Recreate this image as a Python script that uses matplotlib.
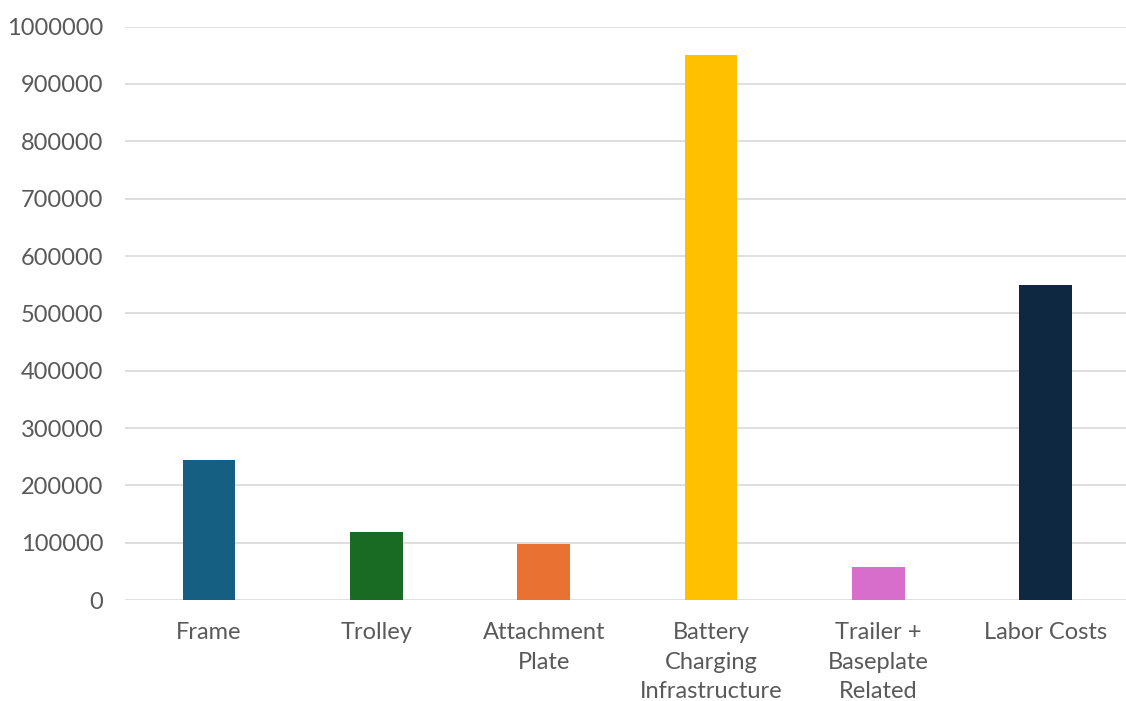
import numpy as np
import matplotlib
matplotlib.use("Agg")
import matplotlib.pyplot as plt

categories = ["Frame", "Trolley", "Attachment\nPlate", "Battery\nCharging\nInfrastructure",
              "Trailer +\nBaseplate\nRelated", "Labor Costs"]
values = [244000, 119000, 97000, 951000, 58000, 550000]
colors = ["#156082", "#196B24", "#E97132", "#FFC000", "#D86ECC", "#0E2841"]
yticks = np.arange(0, 1000001, 100000)

plt.rcParams['font.family'] = ['Lato', 'DejaVu Sans']

fig = plt.figure(figsize=(11.26, 7.01), dpi=100)
ax = fig.add_axes([0.1114, 0.144, 0.8916, 0.818])

x = np.arange(len(categories))
ax.bar(x, values, width=0.315, color=colors, zorder=3)

ax.set_xlim(-0.5, len(categories) - 0.5)
ax.set_ylim(0, 1000000)
ax.set_yticks(yticks)
ax.set_yticklabels([str(v) for v in yticks])
ax.set_xticks(x)
ax.set_xticklabels(categories, linespacing=1.5)

ax.grid(axis='y', color='#D9D9D9', linewidth=1.2, zorder=0)
for s in ['top', 'right', 'left', 'bottom']:
    ax.spines[s].set_visible(False)
ax.tick_params(axis='both', length=0, labelsize=17, colors='#595959')
ax.tick_params(axis='y', pad=16)
ax.tick_params(axis='x', pad=16)

fig.savefig("out.png", dpi=100, facecolor='white')
